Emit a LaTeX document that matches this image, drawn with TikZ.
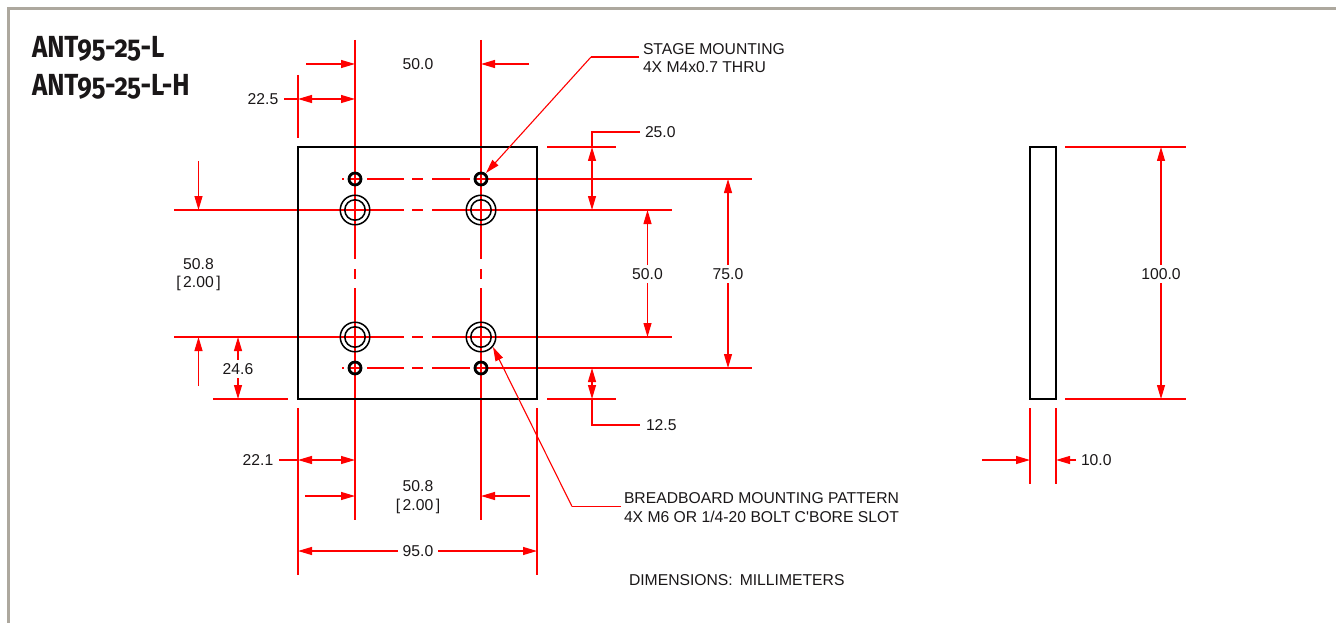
\documentclass[tikz,border=0pt]{standalone}
\usepackage{fontspec}
\usepackage{xcolor}
\usetikzlibrary{arrows.meta}
\setmainfont{Liberation Sans}
\newfontfamily\notefont{Liberation Sans}
\newfontfamily\titlefont[FakeStretch=0.85,Numbers=OldStyle]{Fira Sans}
\definecolor{framegray}{HTML}{ADA89E}
\definecolor{inkblack}{HTML}{1A1718}
\tikzset{
  redline/.style={red,line width=1.1pt},
  heavyline/.style={red,line width=1.7pt},
  centerline/.style={red,line width=2.6pt},
  boredash/.style={centerline,dash pattern=on 49pt off 8pt on 11pt off 9pt on 49pt},
  holedash/.style={centerline,dash pattern=on 0pt off 12pt on 37pt off 8pt on 11pt off 9pt on 38pt off 11pt},
  fulldash/.style={redline,dash pattern=on 219pt off 10pt on 10pt off 9pt on 232pt},
  centerbar/.style={fill=red,inner sep=0pt,outer sep=0pt,minimum width=2.6pt,minimum height=49pt},
  centerdot/.style={fill=red,inner sep=0pt,outer sep=0pt,minimum width=2.6pt,minimum height=10pt},
  dimtext/.style={inner sep=0pt,outer sep=0pt,text=inkblack,font=\notefont\fontsize{15.7}{18.5}\selectfont,align=center},
  gaptext/.style={dimtext,fill=white,inner xsep=5pt,inner ysep=3pt},
  notetext/.style={dimtext,anchor=west,align=left},
  titletext/.style={inner sep=0pt,outer sep=0pt,anchor=west,text=inkblack,font=\titlefont\bfseries\fontsize{30.5}{32}\selectfont},
  smallhole/.style={circle,draw=black,line width=2.8pt,minimum size=12pt,inner sep=0pt,outer sep=0pt},
  ringout/.style={circle,draw=black,line width=1.5pt,minimum size=29.5pt,inner sep=0pt,outer sep=0pt},
  ringin/.style={circle,draw=black,line width=1.5pt,minimum size=20.4pt,inner sep=0pt,outer sep=0pt},
  plate/.style={draw=black,line width=1.7pt}
}
\begin{document}
\begin{tikzpicture}[x=1pt,y=-1pt,>={Triangle[length=14pt,width=8pt]}]
\useasboundingbox (0,0) rectangle (1336,623);
\coordinate (fa) at (8,623);
\coordinate (fb) at (8,9);
\coordinate (fc) at (1336,9);
\draw [framegray,line width=3pt] (fa) -- (fb) -- (fc);
\node[titletext] (title1) at (32,48.5) {ANT95-25-L};
\node[titletext] (title2) at (32,86.5) {ANT95-25-L-H};
\coordinate (pA) at (298,147);
\coordinate (pB) at (537,399);
\coordinate (sA) at (1030,147);
\coordinate (sB) at (1056,399);
\coordinate (s1) at (355,179);
\coordinate (s2) at (481,179);
\coordinate (s3) at (355,368);
\coordinate (s4) at (481,368);
\coordinate (b1) at (355,210);
\coordinate (b2) at (481,210);
\coordinate (b3) at (355,337);
\coordinate (b4) at (481,337);
\coordinate (v1t) at (355,40);
\coordinate (v2t) at (481,40);
\coordinate (v1b) at (355,520);
\coordinate (v2b) at (481,520);
\draw [fulldash] (v1t) -- (v1b);
\draw [fulldash] (v2t) -- (v2b);
\coordinate (h1l) at (174,210);
\coordinate (h1r) at (672,210);
\coordinate (h2l) at (174,337);
\coordinate (h2r) at (672,337);
\coordinate (h3r) at (752,179);
\coordinate (h4r) at (752,368);
\coordinate (h1m) at (616,210);
\coordinate (h4m) at (616,368);
\draw [redline] (h1l) -- (b1);
\draw [redline] (b2) -- (h1r);
\draw [redline] (h2l) -- (b3);
\draw [redline] (b4) -- (h2r);
\draw [redline] (s2) -- (h3r);
\draw [redline] (s4) -- (h4r);
\draw [heavyline] (b2) -- (h1m);
\draw [heavyline] (s4) -- (h4m);
\draw [holedash] (s1) -- (s2);
\draw [holedash] (s3) -- (s4);
\draw [boredash] (b1) -- (b2);
\draw [boredash] (b3) -- (b4);
\node[centerbar] (bar1) at (355,234.5) {};
\node[centerdot] (mid1) at (355,274) {};
\node[centerbar] (bar2) at (355,312.5) {};
\node[centerbar] (bar3) at (481,234.5) {};
\node[centerdot] (mid2) at (481,274) {};
\node[centerbar] (bar4) at (481,312.5) {};
\foreach \hx/\hy/\hn in {355/210/a,481/210/b,355/337/c,481/337/d} {
  \coordinate (big\hn1) at (\hx-9,\hy);
  \coordinate (big\hn2) at (\hx+9,\hy);
  \coordinate (big\hn3) at (\hx,\hy-9);
  \coordinate (big\hn4) at (\hx,\hy+9);
  \draw [centerline] (big\hn1) -- (big\hn2) (big\hn3) -- (big\hn4);
}
\foreach \hx/\hy/\hn in {355/179/a,481/179/b,355/368/c,481/368/d} {
  \coordinate (tiny\hn1) at (\hx-5,\hy);
  \coordinate (tiny\hn2) at (\hx+5,\hy);
  \coordinate (tiny\hn3) at (\hx,\hy-5);
  \coordinate (tiny\hn4) at (\hx,\hy+5);
  \draw [redline] (tiny\hn1) -- (tiny\hn2) (tiny\hn3) -- (tiny\hn4);
}
\coordinate (dot1a) at (342,179);
\coordinate (dot1b) at (343.5,179);
\coordinate (dot2a) at (342,368);
\coordinate (dot2b) at (343.5,368);
\draw [redline] (dot1a) -- (dot1b);
\draw [redline] (dot2a) -- (dot2b);
\draw [plate] (pA) rectangle (pB);
\draw [plate] (sA) rectangle (sB);
\node[smallhole] (hole1) at (s1) {};
\node[smallhole] (hole2) at (s2) {};
\node[smallhole] (hole3) at (s3) {};
\node[smallhole] (hole4) at (s4) {};
\node[ringout] (bore1) at (b1) {};
\node[ringin] (slot1) at (b1) {};
\node[ringout] (bore2) at (b2) {};
\node[ringin] (slot2) at (b2) {};
\node[ringout] (bore3) at (b3) {};
\node[ringin] (slot3) at (b3) {};
\node[ringout] (bore4) at (b4) {};
\node[ringin] (slot4) at (b4) {};
\coordinate (xL1) at (298,75);
\coordinate (xL2) at (298,138);
\coordinate (xL3) at (298,408);
\coordinate (xL4) at (298,575);
\coordinate (xR3) at (537,408);
\coordinate (xR4) at (537,575);
\draw [redline] (xL1) -- (xL2);
\draw [redline] (xL3) -- (xL4);
\draw [redline] (xR3) -- (xR4);
\node[dimtext] (t500top) at (418,64.5) {50.0};
\coordinate (a500l) at (306,64);
\coordinate (a500lt) at (355,64);
\coordinate (a500r) at (529,64);
\coordinate (a500rt) at (481,64);
\draw [redline,->] (a500l) -- (a500lt);
\draw [redline,->] (a500r) -- (a500rt);
\node[dimtext] (t225) at (263,99.5) {22.5};
\coordinate (a225a) at (284,99);
\coordinate (a225b) at (298,99);
\coordinate (a225c) at (355,99);
\draw [redline] (a225a) -- (a225b);
\draw [redline,<->] (a225b) -- (a225c);
\node[dimtext] (t508left) at (198.5,274.5) {50.8\\{}[\hspace{2.5pt}2.00\hspace{2.5pt}]};
\coordinate (a508a) at (198.5,161);
\coordinate (a508b) at (198.5,210);
\coordinate (a508c) at (198.5,386);
\coordinate (a508d) at (198.5,337);
\draw [redline,->] (a508a) -- (a508b);
\draw [redline,->] (a508c) -- (a508d);
\coordinate (e246a) at (213,399);
\coordinate (e246b) at (288,399);
\draw [redline] (e246a) -- (e246b);
\coordinate (a246a) at (238,337);
\coordinate (a246b) at (238,399);
\draw [redline,<->] (a246a) -- (a246b);
\node[gaptext] (t246) at (238,369) {24.6};
\coordinate (e25a) at (547,147);
\coordinate (e25b) at (616,147);
\coordinate (e125a) at (547,399);
\coordinate (e125b) at (616,399);
\draw [redline] (e25a) -- (e25b);
\draw [redline] (e125a) -- (e125b);
\node[notetext] (t250) at (645,132.5) {25.0};
\coordinate (a25a) at (640,132);
\coordinate (a25b) at (592,132);
\coordinate (a25c) at (592,147);
\coordinate (a25d) at (592,210);
\draw [redline] (a25a) -- (a25b) -- (a25c);
\draw [redline,<->] (a25c) -- (a25d);
\node[notetext] (t125) at (646,425) {12.5};
\coordinate (a125a) at (640,425);
\coordinate (a125b) at (592,425);
\coordinate (a125c) at (592,399);
\coordinate (a125d) at (592,368);
\draw [redline] (a125a) -- (a125b) -- (a125c);
\draw [redline,<->] (a125c) -- (a125d);
\coordinate (a50a) at (647.5,210);
\coordinate (a50b) at (647.5,337);
\draw [redline,<->] (a50a) -- (a50b);
\node[gaptext] (t500right) at (647.5,274) {50.0};
\coordinate (a75a) at (728,179);
\coordinate (a75b) at (728,368);
\draw [redline,<->] (a75a) -- (a75b);
\node[gaptext] (t750) at (728,274) {75.0};
\coordinate (e100a) at (1065,147);
\coordinate (e100b) at (1186,147);
\coordinate (e100c) at (1065,399);
\coordinate (e100d) at (1186,399);
\draw [redline] (e100a) -- (e100b);
\draw [redline] (e100c) -- (e100d);
\coordinate (a100a) at (1161,147);
\coordinate (a100b) at (1161,399);
\draw [redline,<->] (a100a) -- (a100b);
\node[gaptext] (t1000) at (1161,274) {100.0};
\coordinate (e10a) at (1030,408);
\coordinate (e10b) at (1030,484);
\coordinate (e10c) at (1056,408);
\coordinate (e10d) at (1056,484);
\draw [redline] (e10a) -- (e10b);
\draw [redline] (e10c) -- (e10d);
\coordinate (a10a) at (982,460);
\coordinate (a10b) at (1030,460);
\coordinate (a10c) at (1076,460);
\coordinate (a10d) at (1056,460);
\draw [redline,->] (a10a) -- (a10b);
\draw [redline,->] (a10c) -- (a10d);
\node[notetext] (t100) at (1081,460.5) {10.0};
\node[dimtext] (t221) at (258,460.5) {22.1};
\coordinate (a221a) at (279,460);
\coordinate (a221b) at (298,460);
\coordinate (a221c) at (355,460);
\draw [redline] (a221a) -- (a221b);
\draw [redline,<->] (a221b) -- (a221c);
\coordinate (a508e) at (305,496);
\coordinate (a508f) at (355,496);
\coordinate (a508g) at (530,496);
\coordinate (a508h) at (481,496);
\draw [redline,->] (a508e) -- (a508f);
\draw [redline,->] (a508g) -- (a508h);
\node[dimtext] (t508bottom) at (418,497) {50.8\\{}[\hspace{2.5pt}2.00\hspace{2.5pt}]};
\coordinate (a95a) at (298,551);
\coordinate (a95b) at (537,551);
\draw [redline,<->] (a95a) -- (a95b);
\node[gaptext] (t950) at (418,551.5) {95.0};
\node[notetext] (stage) at (643,58) {STAGE MOUNTING\\4X M4x0.7 THRU};
\coordinate (ls1) at (639,57);
\coordinate (ls2) at (591,57);
\coordinate (ls3) at (486,173);
\draw [redline] (ls1) -- (ls2);
\draw [redline,->] (ls2) -- (ls3);
\node[notetext] (breadboard) at (624,507.5) {BREADBOARD MOUNTING PATTERN\\4X M6 OR 1/4-20 BOLT C'BORE SLOT};
\coordinate (lb1) at (621,506.5);
\coordinate (lb2) at (572,506.5);
\coordinate (lb3) at (493,347);
\draw [redline] (lb1) -- (lb2);
\draw [redline,->] (lb2) -- (lb3);
\node[notetext] (units) at (629,580) {DIMENSIONS:\hspace{7pt}MILLIMETERS};
\end{tikzpicture}
\end{document}
